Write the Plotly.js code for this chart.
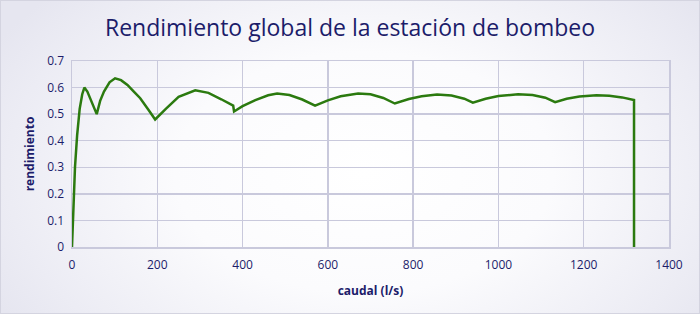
<!DOCTYPE html>
<html><head><meta charset="utf-8">
<script src="https://cdn.plot.ly/plotly-3.0.1.min.js"></script>
<style>
html,body{margin:0;padding:0;}
body{width:700px;height:314px;background:radial-gradient(ellipse 60% 85% at 52% 55%, #ffffff 0%, #fbfbfd 45%, #ececf4 85%, #e6e6f0 100%);}
#frame{position:absolute;left:0;top:0;width:698px;height:312px;border:1px solid #d4d4e0;}
#chart{position:absolute;left:0;top:0;width:700px;height:314px;}
</style></head>
<body><div id="frame"></div><div id="chart"></div>
<script>
const caudal = [0,3,7,12,18,24,29,36,44,52,58,66,75,88,101,115,130,145,160,180,195,220,250,289,320,350,375,378,380,400,430,460,481,510,540,570,600,630,671,700,730,757,790,820,856,890,920,940,970,1000,1046,1080,1110,1133,1160,1190,1230,1260,1290,1318,1318];
const rendimiento = [0,0.15,0.3,0.42,0.52,0.575,0.60,0.585,0.555,0.52,0.50,0.55,0.585,0.62,0.635,0.628,0.61,0.585,0.56,0.515,0.48,0.52,0.565,0.59,0.58,0.556,0.537,0.532,0.51,0.53,0.553,0.571,0.578,0.572,0.555,0.532,0.552,0.567,0.578,0.575,0.561,0.54,0.557,0.567,0.574,0.57,0.558,0.543,0.558,0.568,0.575,0.572,0.562,0.545,0.558,0.566,0.571,0.569,0.563,0.553,0];
const xTicks = [0,200,400,600,800,1000,1200,1400];
const yTicks = [0,0.1,0.2,0.3,0.4,0.5,0.6,0.7];
const navy = '#1c1c6a';
const fontFam = 'Open Sans, Lato, sans-serif';
Plotly.newPlot('chart', [{
  x: caudal, y: rendimiento, type: 'scatter', mode: 'lines',
  line: {color: '#2b7a0f', width: 2.5}, hoverinfo: 'skip'
}], {
  width: 700, height: 314,
  paper_bgcolor: 'rgba(0,0,0,0)', plot_bgcolor: 'rgba(0,0,0,0)',
  margin: {l: 72, r: 31, t: 61, b: 67},
  showlegend: false,
  title: {text: 'Rendimiento global de la estación de bombeo', x: 0.5, xanchor: 'center', y: 0.91, yanchor: 'middle',
          font: {family: fontFam, size: 23, color: navy}},
  xaxis: {range: [0,1400], tickvals: xTicks, ticktext: xTicks.map(String), showgrid: true, gridcolor: '#c9c9dc', gridwidth: 1.5,
          zeroline: false, showline: true, linecolor: '#c9c9dc', linewidth: 1.5, mirror: true, ticks: '', ticklabelstandoff: 6,
          tickfont: {family: fontFam, size: 12, color: navy},
          title: {text: '<b>caudal (l/s)</b>', font: {family: fontFam, size: 12, color: navy}, standoff: 14}},
  yaxis: {range: [0,0.7], tickvals: yTicks, ticktext: yTicks.map(v => String(v)), showgrid: true, gridcolor: '#c9c9dc', gridwidth: 1.5,
          zeroline: false, showline: true, linecolor: '#c9c9dc', linewidth: 1.5, mirror: true, ticks: '', ticklabelstandoff: 4,
          tickfont: {family: fontFam, size: 12, color: navy},
          title: {text: '<b>rendimiento</b>', font: {family: fontFam, size: 12, color: navy}, standoff: 10}}
}, {staticPlot: true, displayModeBar: false});
</script></body></html>
